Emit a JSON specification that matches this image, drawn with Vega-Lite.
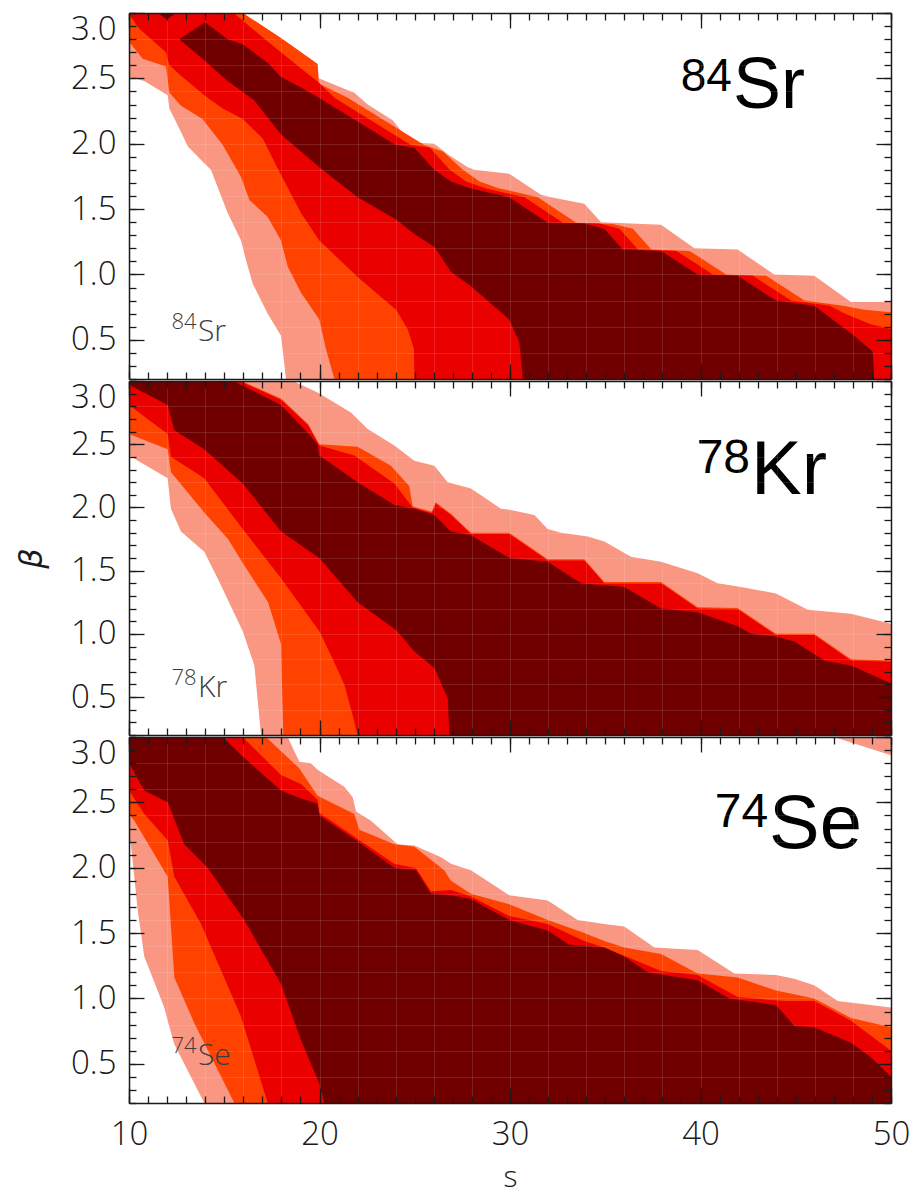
{
  "$schema": "https://vega.github.io/schema/vega-lite/v6.json",
  "background": "white",
  "padding": {"left": 15, "top": 12, "right": 5, "bottom": 2},
  "spacing": 0,
  "config": {
    "view": {"stroke": null},
    "concat": {"spacing": 0},
    "axis": {
      "labelFont": "Open Sans", "labelFontSize": 33, "labelFontWeight": 300, "labelColor": "#1a1a1a",
      "titleFont": "Open Sans", "titleFontSize": 32, "titleFontWeight": 300, "titleColor": "#1a1a1a",
      "tickColor": "#1a1a1a", "tickWidth": 1.3, "domainColor": "#1a1a1a", "domainWidth": 1.5,
      "labelOverlap": false, "grid": false
    }
  },
  "datasets": {
    "sr1": [{"s":10,"b":3},{"s":15.97,"b":3},{"s":18.07,"b":2.8},{"s":19.9,"b":2.61},{"s":19.96,"b":2.5},{"s":21.3,"b":2.42},{"s":21.83,"b":2.39},{"s":22.53,"b":2.3},{"s":23.84,"b":2.18},{"s":24.28,"b":2.1},{"s":24.8,"b":2.01},{"s":26.03,"b":2},{"s":26.73,"b":1.92},{"s":27.78,"b":1.82},{"s":28.13,"b":1.8},{"s":29.96,"b":1.77},{"s":31.63,"b":1.61},{"s":32.15,"b":1.59},{"s":33.9,"b":1.54},{"s":34.78,"b":1.4},{"s":37.93,"b":1.38},{"s":39.68,"b":1.2},{"s":41.95,"b":1.19},{"s":43.87,"b":1},{"s":45.97,"b":0.99},{"s":47.9,"b":0.79},{"s":50,"b":0.79},{"s":50,"b":0.2},{"s":18.24,"b":0.2},{"s":17.98,"b":0.53},{"s":17.28,"b":0.7},{"s":16.49,"b":0.93},{"s":16.14,"b":1.11},{"s":15.88,"b":1.26},{"s":15.18,"b":1.47},{"s":14.3,"b":1.8},{"s":13.95,"b":1.85},{"s":13.08,"b":1.98},{"s":12.73,"b":2.09},{"s":12.12,"b":2.27},{"s":12.03,"b":2.37},{"s":10.8,"b":2.48},{"s":10,"b":2.51}],
    "sr2": [{"s":10,"b":3},{"s":15.97,"b":3},{"s":18.07,"b":2.8},{"s":19.9,"b":2.61},{"s":19.96,"b":2.46},{"s":21.5,"b":2.35},{"s":23.5,"b":2.17},{"s":25.5,"b":1.99},{"s":26.48,"b":1.94},{"s":27.53,"b":1.8},{"s":28.4,"b":1.71},{"s":29.4,"b":1.66},{"s":31.46,"b":1.59},{"s":33.48,"b":1.395},{"s":35.4,"b":1.385},{"s":36.45,"b":1.35},{"s":37.42,"b":1.19},{"s":39.43,"b":1.18},{"s":41.35,"b":1},{"s":43.45,"b":0.99},{"s":45.46,"b":0.8},{"s":47.47,"b":0.76},{"s":48.6,"b":0.73},{"s":50,"b":0.71},{"s":50,"b":0.2},{"s":20.78,"b":0.2},{"s":20.34,"b":0.43},{"s":19.99,"b":0.655},{"s":19.03,"b":0.86},{"s":18.33,"b":1.06},{"s":17.98,"b":1.26},{"s":17.28,"b":1.44},{"s":16.32,"b":1.57},{"s":15.88,"b":1.745},{"s":14.92,"b":1.99},{"s":13.86,"b":2.19},{"s":12.73,"b":2.29},{"s":12.12,"b":2.39},{"s":11.94,"b":2.59},{"s":10.72,"b":2.65},{"s":10,"b":2.78}],
    "sr3": [{"s":10,"b":3},{"s":15.5,"b":3},{"s":17.3,"b":2.78},{"s":19,"b":2.58},{"s":19.95,"b":2.47},{"s":20.8,"b":2.35},{"s":22.8,"b":2.17},{"s":24.8,"b":1.99},{"s":25.8,"b":1.97},{"s":26.83,"b":1.8},{"s":27.7,"b":1.71},{"s":28.7,"b":1.66},{"s":30.76,"b":1.59},{"s":32.78,"b":1.395},{"s":34.7,"b":1.39},{"s":35.75,"b":1.35},{"s":36.72,"b":1.19},{"s":38.73,"b":1.18},{"s":40.65,"b":1},{"s":42.75,"b":0.99},{"s":44.76,"b":0.8},{"s":46.77,"b":0.76},{"s":47.6,"b":0.7},{"s":48.9,"b":0.62},{"s":50,"b":0.58},{"s":50,"b":0.2},{"s":24.98,"b":0.2},{"s":24.96,"b":0.43},{"s":24.63,"b":0.58},{"s":24.02,"b":0.73},{"s":22,"b":0.98},{"s":19.99,"b":1.26},{"s":19.03,"b":1.47},{"s":17.98,"b":1.76},{"s":17.02,"b":2.04},{"s":15.97,"b":2.19},{"s":14.92,"b":2.27},{"s":13.95,"b":2.37},{"s":12.73,"b":2.52},{"s":12.12,"b":2.6},{"s":11.94,"b":2.7},{"s":10.54,"b":2.88},{"s":10,"b":2.99}],
    "sr4": [{"s":12.64,"b":2.8},{"s":13.99,"b":2.93},{"s":15.18,"b":2.8},{"s":15.97,"b":2.76},{"s":17.28,"b":2.62},{"s":17.98,"b":2.51},{"s":19.03,"b":2.43},{"s":19.99,"b":2.35},{"s":22,"b":2.17},{"s":24,"b":1.99},{"s":24.98,"b":1.97},{"s":26.03,"b":1.8},{"s":26.9,"b":1.71},{"s":27.9,"b":1.66},{"s":29.96,"b":1.59},{"s":31.98,"b":1.395},{"s":33.9,"b":1.39},{"s":34.95,"b":1.35},{"s":35.92,"b":1.19},{"s":37.93,"b":1.18},{"s":39.85,"b":1},{"s":41.95,"b":0.99},{"s":43.96,"b":0.8},{"s":45.97,"b":0.76},{"s":48.07,"b":0.53},{"s":49.04,"b":0.41},{"s":49.12,"b":0.2},{"s":30.67,"b":0.2},{"s":30.49,"b":0.48},{"s":29.96,"b":0.655},{"s":27.95,"b":0.91},{"s":26.9,"b":1.02},{"s":26.03,"b":1.21},{"s":24.98,"b":1.31},{"s":24.02,"b":1.42},{"s":22,"b":1.59},{"s":19.99,"b":1.82},{"s":17.98,"b":2.07},{"s":16.58,"b":2.33},{"s":15.18,"b":2.48},{"s":13.78,"b":2.66}],
    "sr4b": [{"s":11.5,"b":3},{"s":11.98,"b":2.95},{"s":12.47,"b":3}],
    "kr1": [{"s":10,"b":3},{"s":18.6,"b":3},{"s":19.9,"b":2.91},{"s":21.65,"b":2.75},{"s":22.53,"b":2.62},{"s":23.93,"b":2.49},{"s":24.98,"b":2.37},{"s":26.03,"b":2.33},{"s":26.73,"b":2.2},{"s":27.95,"b":2.15},{"s":29.53,"b":1.99},{"s":30.05,"b":1.98},{"s":31.28,"b":1.94},{"s":31.98,"b":1.83},{"s":32.68,"b":1.8},{"s":34.08,"b":1.77},{"s":34.95,"b":1.73},{"s":36.35,"b":1.61},{"s":37.93,"b":1.57},{"s":39.85,"b":1.48},{"s":40.9,"b":1.4},{"s":42.13,"b":1.37},{"s":43.96,"b":1.32},{"s":45.63,"b":1.19},{"s":47.9,"b":1.16},{"s":50,"b":1.08},{"s":50,"b":0.2},{"s":16.93,"b":0.2},{"s":16.58,"b":0.75},{"s":15.97,"b":1.02},{"s":14.65,"b":1.44},{"s":13.95,"b":1.65},{"s":12.73,"b":1.81},{"s":12.2,"b":1.99},{"s":12.03,"b":2.23},{"s":10,"b":2.41}],
    "kr2": [{"s":10,"b":3},{"s":15.9,"b":3},{"s":18,"b":2.86},{"s":19.4,"b":2.66},{"s":19.99,"b":2.5},{"s":22,"b":2.48},{"s":23.75,"b":2.33},{"s":24.71,"b":2.17},{"s":24.89,"b":2.01},{"s":25.9,"b":1.965},{"s":26.1,"b":2.04},{"s":26.9,"b":1.95},{"s":27.95,"b":1.8},{"s":29.96,"b":1.8},{"s":31.98,"b":1.59},{"s":33.9,"b":1.59},{"s":34.95,"b":1.41},{"s":37.93,"b":1.41},{"s":39.85,"b":1.21},{"s":41.95,"b":1.205},{"s":43.96,"b":1},{"s":45.97,"b":1},{"s":47.9,"b":0.8},{"s":50,"b":0.79},{"s":50,"b":0.2},{"s":18.1,"b":0.2},{"s":18.05,"b":0.5},{"s":17.98,"b":0.92},{"s":17.3,"b":1.25},{"s":15.97,"b":1.56},{"s":15.2,"b":1.75},{"s":13.95,"b":1.96},{"s":12.2,"b":2.28},{"s":12.03,"b":2.46},{"s":10,"b":2.58}],
    "kr3": [{"s":10,"b":3},{"s":15.8,"b":3},{"s":18,"b":2.85},{"s":19.4,"b":2.65},{"s":19.99,"b":2.49},{"s":21.83,"b":2.41},{"s":23.93,"b":2.19},{"s":24.89,"b":2},{"s":25.9,"b":1.955},{"s":26.1,"b":2.03},{"s":26.9,"b":1.94},{"s":27.95,"b":1.79},{"s":29.96,"b":1.79},{"s":31.98,"b":1.58},{"s":33.9,"b":1.58},{"s":34.95,"b":1.4},{"s":37.93,"b":1.4},{"s":39.85,"b":1.2},{"s":41.95,"b":1.195},{"s":43.96,"b":0.99},{"s":45.97,"b":0.99},{"s":47.9,"b":0.79},{"s":50,"b":0.78},{"s":50,"b":0.2},{"s":22,"b":0.2},{"s":21.75,"b":0.35},{"s":21.3,"b":0.6},{"s":20.7,"b":0.8},{"s":19.99,"b":1.02},{"s":17.98,"b":1.44},{"s":15.97,"b":1.83},{"s":13.95,"b":2.23},{"s":12.2,"b":2.4},{"s":12.03,"b":2.58},{"s":10,"b":2.81}],
    "kr4": [{"s":10,"b":3},{"s":15.5,"b":3},{"s":17.98,"b":2.81},{"s":19.38,"b":2.59},{"s":19.9,"b":2.5},{"s":19.99,"b":2.41},{"s":22,"b":2.2},{"s":23.93,"b":2.02},{"s":24.98,"b":1.99},{"s":26.03,"b":1.94},{"s":26.9,"b":1.81},{"s":27.95,"b":1.78},{"s":29.96,"b":1.6},{"s":31.98,"b":1.57},{"s":33.73,"b":1.4},{"s":36,"b":1.37},{"s":37.93,"b":1.2},{"s":39.85,"b":1.17},{"s":41.95,"b":1.06},{"s":42.65,"b":1},{"s":43.96,"b":0.98},{"s":44.93,"b":0.94},{"s":46.5,"b":0.79},{"s":47.9,"b":0.75},{"s":50,"b":0.61},{"s":50,"b":0.2},{"s":26.82,"b":0.2},{"s":26.73,"b":0.49},{"s":26.03,"b":0.73},{"s":24.98,"b":0.86},{"s":24.02,"b":1.03},{"s":22,"b":1.25},{"s":19.99,"b":1.6},{"s":17.98,"b":1.81},{"s":15.97,"b":2.19},{"s":13.95,"b":2.46},{"s":12.38,"b":2.61},{"s":12.03,"b":2.81},{"s":10,"b":2.97}],
    "se1": [{"s":10,"b":3},{"s":18.33,"b":3},{"s":18.94,"b":2.81},{"s":19.55,"b":2.8},{"s":19.9,"b":2.75},{"s":21.3,"b":2.62},{"s":21.74,"b":2.54},{"s":21.92,"b":2.43},{"s":22.7,"b":2.36},{"s":24.1,"b":2.18},{"s":24.98,"b":2.17},{"s":26.38,"b":2.08},{"s":26.9,"b":2.03},{"s":27.95,"b":1.98},{"s":29.96,"b":1.79},{"s":31.98,"b":1.75},{"s":33.55,"b":1.6},{"s":34.95,"b":1.57},{"s":36,"b":1.55},{"s":37.58,"b":1.39},{"s":39.85,"b":1.37},{"s":41.78,"b":1.19},{"s":43.96,"b":1.18},{"s":44.93,"b":1.15},{"s":45.97,"b":1.1},{"s":47.2,"b":0.98},{"s":50,"b":0.93},{"s":50,"b":0.2},{"s":13.95,"b":0.2},{"s":12.38,"b":0.65},{"s":12.03,"b":0.83},{"s":11.85,"b":0.93},{"s":10.8,"b":1.32},{"s":10.46,"b":1.67},{"s":10.1,"b":2.18},{"s":10,"b":2.22}],
    "se1b": [{"s":47,"b":3},{"s":50,"b":3},{"s":50,"b":2.86}],
    "se2": [{"s":10,"b":3},{"s":17.19,"b":3},{"s":18.94,"b":2.76},{"s":19.03,"b":2.74},{"s":19.9,"b":2.55},{"s":21.83,"b":2.41},{"s":22.09,"b":2.29},{"s":23.93,"b":2.18},{"s":24.98,"b":2.16},{"s":26.55,"b":1.98},{"s":26.9,"b":1.9},{"s":27.95,"b":1.8},{"s":29.96,"b":1.72},{"s":31.98,"b":1.6},{"s":33.9,"b":1.5},{"s":34.95,"b":1.44},{"s":36,"b":1.39},{"s":37.93,"b":1.34},{"s":39.85,"b":1.19},{"s":41.95,"b":1.16},{"s":43.96,"b":1.06},{"s":45.97,"b":1},{"s":47.9,"b":0.85},{"s":50,"b":0.78},{"s":50,"b":0.2},{"s":15.53,"b":0.2},{"s":13.43,"b":0.81},{"s":12.38,"b":1.16},{"s":12.03,"b":1.93},{"s":10.28,"b":2.36},{"s":10,"b":2.41}],
    "se3": [{"s":10,"b":3},{"s":15.97,"b":3},{"s":17.98,"b":2.71},{"s":19.03,"b":2.64},{"s":19.9,"b":2.52},{"s":19.99,"b":2.42},{"s":21.92,"b":2.23},{"s":23.93,"b":2.03},{"s":25.07,"b":1.995},{"s":25.85,"b":1.82},{"s":26.9,"b":1.83},{"s":27.95,"b":1.78},{"s":29.96,"b":1.63},{"s":31.98,"b":1.57},{"s":33.9,"b":1.44},{"s":34.95,"b":1.39},{"s":37.93,"b":1.21},{"s":39.85,"b":1.18},{"s":41.95,"b":1.01},{"s":44.4,"b":0.98},{"s":45.97,"b":0.98},{"s":47.9,"b":0.83},{"s":50,"b":0.6},{"s":50,"b":0.2},{"s":17.28,"b":0.2},{"s":15.88,"b":0.86},{"s":13.78,"b":1.57},{"s":12.38,"b":1.93},{"s":12.03,"b":2.21},{"s":10.8,"b":2.41},{"s":10,"b":2.59}],
    "se4": [{"s":10,"b":3},{"s":14.92,"b":3},{"s":15.97,"b":2.85},{"s":17.98,"b":2.59},{"s":19.03,"b":2.53},{"s":19.9,"b":2.49},{"s":20,"b":2.4},{"s":21.92,"b":2.21},{"s":23.93,"b":2},{"s":25.07,"b":1.98},{"s":25.85,"b":1.8},{"s":26.9,"b":1.79},{"s":27.95,"b":1.76},{"s":29.96,"b":1.6},{"s":31.98,"b":1.52},{"s":33.12,"b":1.41},{"s":34.95,"b":1.39},{"s":36,"b":1.32},{"s":37.23,"b":1.2},{"s":39.85,"b":1.14},{"s":41.51,"b":1},{"s":43.96,"b":0.95},{"s":44.93,"b":0.79},{"s":45.97,"b":0.78},{"s":47.9,"b":0.66},{"s":48.95,"b":0.55},{"s":50,"b":0.4},{"s":50,"b":0.2},{"s":20.25,"b":0.2},{"s":19.99,"b":0.35},{"s":19.03,"b":0.68},{"s":17.98,"b":1.11},{"s":16.05,"b":1.6},{"s":14.13,"b":2},{"s":12.9,"b":2.18},{"s":12.03,"b":2.5},{"s":10.8,"b":2.59},{"s":10,"b":2.8}]
  },
  "vconcat": [
    {
      "width": 762, "height": 366,
      "resolve": {"axis": {"x": "independent", "y": "independent"}},
      "layer": [
        {"data": {"name": "sr1"}, "mark": {"type": "line", "filled": true, "fill": "#fa9783", "strokeWidth": 0, "clip": true},
         "encoding": {
           "x": {"field": "s", "type": "quantitative", "scale": {"domain": [10, 50], "nice": false, "zero": false},
                 "axis": {"orient": "bottom", "values": [10, 20, 30, 40, 50], "labels": false, "tickSize": -15, "title": null, "zindex": 1}},
           "y": {"field": "b", "type": "quantitative", "scale": {"domain": [0.2, 3.0], "nice": false, "zero": false},
                 "axis": {"orient": "left", "values": [0.5, 1, 1.5, 2, 2.5, 3], "format": ".1f", "tickSize": -15, "labelPadding": 28, "labelFlush": true, "title": "β", "titleOpacity": 0, "titlePadding": 22, "titleFont": "DejaVu Sans", "titleFontStyle": "italic", "titleFontSize": 32, "zindex": 1}},
           "order": {"value": null}}},
        {"data": {"name": "sr2"}, "mark": {"type": "line", "filled": true, "fill": "#ff4200", "strokeWidth": 0, "clip": true},
         "encoding": {
           "x": {"field": "s", "type": "quantitative", "scale": {"domain": [10, 50], "nice": false, "zero": false},
                 "axis": {"orient": "bottom", "values": [10,11,12,13,14,15,16,17,18,19,20,21,22,23,24,25,26,27,28,29,30,31,32,33,34,35,36,37,38,39,40,41,42,43,44,45,46,47,48,49,50], "labels": false, "domain": false, "tickSize": -7, "title": null, "zindex": 1,
                          "grid": true, "gridColor": "white", "gridWidth": 1, "gridOpacity": {"condition": {"test": "datum.value % 2 == 0 && datum.value > 10 && datum.value < 50", "value": 0.12}, "value": 0}}},
           "y": {"field": "b", "type": "quantitative", "scale": {"domain": [0.2, 3.0], "nice": false, "zero": false},
                 "axis": {"orient": "left", "values": [0.2,0.3,0.4,0.5,0.6,0.7,0.8,0.9,1.0,1.1,1.2,1.3,1.4,1.5,1.6,1.7,1.8,1.9,2.0,2.1,2.2,2.3,2.4,2.5,2.6,2.7,2.8,2.9,3.0], "labels": false, "domain": false, "tickSize": -7, "title": null, "zindex": 1,
                          "grid": true, "gridColor": "white", "gridWidth": 1, "gridOpacity": {"condition": {"test": "round(datum.value*10) % 2 == 0 && datum.value > 0.3 && datum.value < 2.9", "value": 0.12}, "value": 0}}},
           "order": {"value": null}}},
        {"data": {"name": "sr3"}, "mark": {"type": "line", "filled": true, "fill": "#eb0000", "strokeWidth": 0, "clip": true},
         "encoding": {
           "x": {"field": "s", "type": "quantitative", "scale": {"domain": [10, 50], "nice": false, "zero": false},
                 "axis": {"orient": "top", "values": [10, 20, 30, 40, 50], "labels": false, "tickSize": -15, "title": null, "zindex": 1}},
           "y": {"field": "b", "type": "quantitative", "scale": {"domain": [0.2, 3.0], "nice": false, "zero": false},
                 "axis": {"orient": "right", "values": [0.5, 1, 1.5, 2, 2.5, 3], "labels": false, "tickSize": -15, "title": null, "zindex": 1}},
           "order": {"value": null}}},
        {"data": {"name": "sr4"}, "mark": {"type": "line", "filled": true, "fill": "#700000", "strokeWidth": 0, "clip": true},
         "encoding": {
           "x": {"field": "s", "type": "quantitative", "scale": {"domain": [10, 50], "nice": false, "zero": false},
                 "axis": {"orient": "top", "values": [10,11,12,13,14,15,16,17,18,19,20,21,22,23,24,25,26,27,28,29,30,31,32,33,34,35,36,37,38,39,40,41,42,43,44,45,46,47,48,49,50], "labels": false, "domain": false, "tickSize": -7, "title": null, "zindex": 1}},
           "y": {"field": "b", "type": "quantitative", "scale": {"domain": [0.2, 3.0], "nice": false, "zero": false},
                 "axis": {"orient": "right", "values": [0.2,0.3,0.4,0.5,0.6,0.7,0.8,0.9,1.0,1.1,1.2,1.3,1.4,1.5,1.6,1.7,1.8,1.9,2.0,2.1,2.2,2.3,2.4,2.5,2.6,2.7,2.8,2.9,3.0], "labels": false, "domain": false, "tickSize": -7, "title": null, "zindex": 1}},
           "order": {"value": null}}},
        {"data": {"name": "sr4b"}, "mark": {"type": "line", "filled": true, "fill": "#700000", "strokeWidth": 0, "clip": true},
         "encoding": {
           "x": {"field": "s", "type": "quantitative", "axis": null},
           "y": {"field": "b", "type": "quantitative", "axis": null},
           "order": {"value": null}}},
        {"data": {"values": [{}]}, "mark": {"type": "text", "font": "Liberation Sans", "fontSize": 72, "align": "left", "baseline": "alphabetic", "color": "#000000"},
         "encoding": {"x": {"datum": 41.71, "type": "quantitative", "axis": null}, "y": {"datum": 2.27, "type": "quantitative", "axis": null}, "text": {"value": "Sr"}}},
        {"data": {"values": [{}]}, "mark": {"type": "text", "font": "Liberation Sans", "fontSize": 46, "align": "right", "baseline": "alphabetic", "dy": -17, "color": "#000000"},
         "encoding": {"x": {"datum": 41.65, "type": "quantitative", "axis": null}, "y": {"datum": 2.27, "type": "quantitative", "axis": null}, "text": {"value": "84"}}},
        {"data": {"values": [{}]}, "mark": {"type": "text", "font": "Open Sans", "fontWeight": 300, "fontSize": 30, "align": "left", "baseline": "alphabetic", "color": "#3c3c3c"},
         "encoding": {"x": {"datum": 13.62, "type": "quantitative", "axis": null}, "y": {"datum": 0.49, "type": "quantitative", "axis": null}, "text": {"value": "Sr"}}},
        {"data": {"values": [{}]}, "mark": {"type": "text", "font": "Open Sans", "fontWeight": 300, "fontSize": 22, "align": "right", "baseline": "alphabetic", "dy": -12, "color": "#3c3c3c"},
         "encoding": {"x": {"datum": 13.55, "type": "quantitative", "axis": null}, "y": {"datum": 0.49, "type": "quantitative", "axis": null}, "text": {"value": "84"}}}
      ]
    },
    {
      "width": 762, "height": 354,
      "resolve": {"axis": {"x": "independent", "y": "independent"}},
      "layer": [
        {"data": {"name": "kr1"}, "mark": {"type": "line", "filled": true, "fill": "#fa9783", "strokeWidth": 0, "clip": true},
         "encoding": {
           "x": {"field": "s", "type": "quantitative", "scale": {"domain": [10, 50], "nice": false, "zero": false},
                 "axis": {"orient": "bottom", "values": [10, 20, 30, 40, 50], "labels": false, "tickSize": -15, "title": null, "zindex": 1}},
           "y": {"field": "b", "type": "quantitative", "scale": {"domain": [0.2, 3.0], "nice": false, "zero": false},
                 "axis": {"orient": "left", "values": [0.5, 1, 1.5, 2, 2.5, 3], "format": ".1f", "tickSize": -15, "labelPadding": 28, "labelFlush": true, "title": "β", "titlePadding": 22, "titleFont": "DejaVu Sans", "titleFontStyle": "italic", "titleFontSize": 32, "zindex": 1}},
           "order": {"value": null}}},
        {"data": {"name": "kr2"}, "mark": {"type": "line", "filled": true, "fill": "#ff4200", "strokeWidth": 0, "clip": true},
         "encoding": {
           "x": {"field": "s", "type": "quantitative", "scale": {"domain": [10, 50], "nice": false, "zero": false},
                 "axis": {"orient": "bottom", "values": [10,11,12,13,14,15,16,17,18,19,20,21,22,23,24,25,26,27,28,29,30,31,32,33,34,35,36,37,38,39,40,41,42,43,44,45,46,47,48,49,50], "labels": false, "domain": false, "tickSize": -7, "title": null, "zindex": 1,
                          "grid": true, "gridColor": "white", "gridWidth": 1, "gridOpacity": {"condition": {"test": "datum.value % 2 == 0 && datum.value > 10 && datum.value < 50", "value": 0.12}, "value": 0}}},
           "y": {"field": "b", "type": "quantitative", "scale": {"domain": [0.2, 3.0], "nice": false, "zero": false},
                 "axis": {"orient": "left", "values": [0.2,0.3,0.4,0.5,0.6,0.7,0.8,0.9,1.0,1.1,1.2,1.3,1.4,1.5,1.6,1.7,1.8,1.9,2.0,2.1,2.2,2.3,2.4,2.5,2.6,2.7,2.8,2.9,3.0], "labels": false, "domain": false, "tickSize": -7, "title": null, "zindex": 1,
                          "grid": true, "gridColor": "white", "gridWidth": 1, "gridOpacity": {"condition": {"test": "round(datum.value*10) % 2 == 0 && datum.value > 0.3 && datum.value < 2.9", "value": 0.12}, "value": 0}}},
           "order": {"value": null}}},
        {"data": {"name": "kr3"}, "mark": {"type": "line", "filled": true, "fill": "#eb0000", "strokeWidth": 0, "clip": true},
         "encoding": {
           "x": {"field": "s", "type": "quantitative", "scale": {"domain": [10, 50], "nice": false, "zero": false},
                 "axis": {"orient": "top", "values": [10, 20, 30, 40, 50], "labels": false, "tickSize": -15, "title": null, "zindex": 1}},
           "y": {"field": "b", "type": "quantitative", "scale": {"domain": [0.2, 3.0], "nice": false, "zero": false},
                 "axis": {"orient": "right", "values": [0.5, 1, 1.5, 2, 2.5, 3], "labels": false, "tickSize": -15, "title": null, "zindex": 1}},
           "order": {"value": null}}},
        {"data": {"name": "kr4"}, "mark": {"type": "line", "filled": true, "fill": "#700000", "strokeWidth": 0, "clip": true},
         "encoding": {
           "x": {"field": "s", "type": "quantitative", "scale": {"domain": [10, 50], "nice": false, "zero": false},
                 "axis": {"orient": "top", "values": [10,11,12,13,14,15,16,17,18,19,20,21,22,23,24,25,26,27,28,29,30,31,32,33,34,35,36,37,38,39,40,41,42,43,44,45,46,47,48,49,50], "labels": false, "domain": false, "tickSize": -7, "title": null, "zindex": 1}},
           "y": {"field": "b", "type": "quantitative", "scale": {"domain": [0.2, 3.0], "nice": false, "zero": false},
                 "axis": {"orient": "right", "values": [0.2,0.3,0.4,0.5,0.6,0.7,0.8,0.9,1.0,1.1,1.2,1.3,1.4,1.5,1.6,1.7,1.8,1.9,2.0,2.1,2.2,2.3,2.4,2.5,2.6,2.7,2.8,2.9,3.0], "labels": false, "domain": false, "tickSize": -7, "title": null, "zindex": 1}},
           "order": {"value": null}}},
        {"data": {"values": [{}]}, "mark": {"type": "text", "font": "Liberation Sans", "fontSize": 76, "align": "left", "baseline": "alphabetic", "color": "#000000"},
         "encoding": {"x": {"datum": 42.65, "type": "quantitative", "axis": null}, "y": {"datum": 2.105, "type": "quantitative", "axis": null}, "text": {"value": "Kr"}}},
        {"data": {"values": [{}]}, "mark": {"type": "text", "font": "Liberation Sans", "fontSize": 48, "align": "right", "baseline": "alphabetic", "dy": -21, "color": "#000000"},
         "encoding": {"x": {"datum": 42.6, "type": "quantitative", "axis": null}, "y": {"datum": 2.105, "type": "quantitative", "axis": null}, "text": {"value": "78"}}},
        {"data": {"values": [{}]}, "mark": {"type": "text", "font": "Open Sans", "fontWeight": 300, "fontSize": 30, "align": "left", "baseline": "alphabetic", "color": "#3c3c3c"},
         "encoding": {"x": {"datum": 13.62, "type": "quantitative", "axis": null}, "y": {"datum": 0.5, "type": "quantitative", "axis": null}, "text": {"value": "Kr"}}},
        {"data": {"values": [{}]}, "mark": {"type": "text", "font": "Open Sans", "fontWeight": 300, "fontSize": 22, "align": "right", "baseline": "alphabetic", "dy": -12, "color": "#3c3c3c"},
         "encoding": {"x": {"datum": 13.55, "type": "quantitative", "axis": null}, "y": {"datum": 0.5, "type": "quantitative", "axis": null}, "text": {"value": "78"}}}
      ]
    },
    {
      "width": 762, "height": 366,
      "resolve": {"axis": {"x": "independent", "y": "independent"}},
      "layer": [
        {"data": {"name": "se1"}, "mark": {"type": "line", "filled": true, "fill": "#fa9783", "strokeWidth": 0, "clip": true},
         "encoding": {
           "x": {"field": "s", "type": "quantitative", "scale": {"domain": [10, 50], "nice": false, "zero": false},
                 "axis": {"orient": "bottom", "values": [10, 20, 30, 40, 50], "labels": true, "labelFlush": false, "tickSize": -15, "labelPadding": 30, "title": "s", "titleFontSize": 30, "titlePadding": 11, "titleBaseline": "top", "zindex": 1}},
           "y": {"field": "b", "type": "quantitative", "scale": {"domain": [0.2, 3.0], "nice": false, "zero": false},
                 "axis": {"orient": "left", "values": [0.5, 1, 1.5, 2, 2.5, 3], "format": ".1f", "tickSize": -15, "labelPadding": 28, "labelFlush": true, "title": "β", "titleOpacity": 0, "titlePadding": 22, "titleFont": "DejaVu Sans", "titleFontStyle": "italic", "titleFontSize": 32, "zindex": 1}},
           "order": {"value": null}}},
        {"data": {"name": "se1b"}, "mark": {"type": "line", "filled": true, "fill": "#fa9783", "strokeWidth": 0, "clip": true},
         "encoding": {
           "x": {"field": "s", "type": "quantitative", "axis": null},
           "y": {"field": "b", "type": "quantitative", "axis": null},
           "order": {"value": null}}},
        {"data": {"name": "se2"}, "mark": {"type": "line", "filled": true, "fill": "#ff4200", "strokeWidth": 0, "clip": true},
         "encoding": {
           "x": {"field": "s", "type": "quantitative", "scale": {"domain": [10, 50], "nice": false, "zero": false},
                 "axis": {"orient": "bottom", "values": [10,11,12,13,14,15,16,17,18,19,20,21,22,23,24,25,26,27,28,29,30,31,32,33,34,35,36,37,38,39,40,41,42,43,44,45,46,47,48,49,50], "labels": false, "domain": false, "tickSize": -7, "title": null, "zindex": 1,
                          "grid": true, "gridColor": "white", "gridWidth": 1, "gridOpacity": {"condition": {"test": "datum.value % 2 == 0 && datum.value > 10 && datum.value < 50", "value": 0.12}, "value": 0}}},
           "y": {"field": "b", "type": "quantitative", "scale": {"domain": [0.2, 3.0], "nice": false, "zero": false},
                 "axis": {"orient": "left", "values": [0.2,0.3,0.4,0.5,0.6,0.7,0.8,0.9,1.0,1.1,1.2,1.3,1.4,1.5,1.6,1.7,1.8,1.9,2.0,2.1,2.2,2.3,2.4,2.5,2.6,2.7,2.8,2.9,3.0], "labels": false, "domain": false, "tickSize": -7, "title": null, "zindex": 1,
                          "grid": true, "gridColor": "white", "gridWidth": 1, "gridOpacity": {"condition": {"test": "round(datum.value*10) % 2 == 0 && datum.value > 0.3 && datum.value < 2.9", "value": 0.12}, "value": 0}}},
           "order": {"value": null}}},
        {"data": {"name": "se3"}, "mark": {"type": "line", "filled": true, "fill": "#eb0000", "strokeWidth": 0, "clip": true},
         "encoding": {
           "x": {"field": "s", "type": "quantitative", "scale": {"domain": [10, 50], "nice": false, "zero": false},
                 "axis": {"orient": "top", "values": [10, 20, 30, 40, 50], "labels": false, "tickSize": -15, "title": null, "zindex": 1}},
           "y": {"field": "b", "type": "quantitative", "scale": {"domain": [0.2, 3.0], "nice": false, "zero": false},
                 "axis": {"orient": "right", "values": [0.5, 1, 1.5, 2, 2.5, 3], "labels": false, "tickSize": -15, "title": null, "zindex": 1}},
           "order": {"value": null}}},
        {"data": {"name": "se4"}, "mark": {"type": "line", "filled": true, "fill": "#700000", "strokeWidth": 0, "clip": true},
         "encoding": {
           "x": {"field": "s", "type": "quantitative", "scale": {"domain": [10, 50], "nice": false, "zero": false},
                 "axis": {"orient": "top", "values": [10,11,12,13,14,15,16,17,18,19,20,21,22,23,24,25,26,27,28,29,30,31,32,33,34,35,36,37,38,39,40,41,42,43,44,45,46,47,48,49,50], "labels": false, "domain": false, "tickSize": -7, "title": null, "zindex": 1}},
           "y": {"field": "b", "type": "quantitative", "scale": {"domain": [0.2, 3.0], "nice": false, "zero": false},
                 "axis": {"orient": "right", "values": [0.2,0.3,0.4,0.5,0.6,0.7,0.8,0.9,1.0,1.1,1.2,1.3,1.4,1.5,1.6,1.7,1.8,1.9,2.0,2.1,2.2,2.3,2.4,2.5,2.6,2.7,2.8,2.9,3.0], "labels": false, "domain": false, "tickSize": -7, "title": null, "zindex": 1}},
           "order": {"value": null}}},
        {"data": {"values": [{}]}, "mark": {"type": "text", "font": "Liberation Sans", "fontSize": 76, "align": "left", "baseline": "alphabetic", "color": "#000000"},
         "encoding": {"x": {"datum": 43.6, "type": "quantitative", "axis": null}, "y": {"datum": 2.153, "type": "quantitative", "axis": null}, "text": {"value": "Se"}}},
        {"data": {"values": [{}]}, "mark": {"type": "text", "font": "Liberation Sans", "fontSize": 48, "align": "right", "baseline": "alphabetic", "dy": -21, "color": "#000000"},
         "encoding": {"x": {"datum": 43.55, "type": "quantitative", "axis": null}, "y": {"datum": 2.153, "type": "quantitative", "axis": null}, "text": {"value": "74"}}},
        {"data": {"values": [{}]}, "mark": {"type": "text", "font": "Open Sans", "fontWeight": 300, "fontSize": 30, "align": "left", "baseline": "alphabetic", "color": "#3c3c3c"},
         "encoding": {"x": {"datum": 13.62, "type": "quantitative", "axis": null}, "y": {"datum": 0.49, "type": "quantitative", "axis": null}, "text": {"value": "Se"}}},
        {"data": {"values": [{}]}, "mark": {"type": "text", "font": "Open Sans", "fontWeight": 300, "fontSize": 22, "align": "right", "baseline": "alphabetic", "dy": -12, "color": "#3c3c3c"},
         "encoding": {"x": {"datum": 13.55, "type": "quantitative", "axis": null}, "y": {"datum": 0.49, "type": "quantitative", "axis": null}, "text": {"value": "74"}}}
      ]
    }
  ]
}
